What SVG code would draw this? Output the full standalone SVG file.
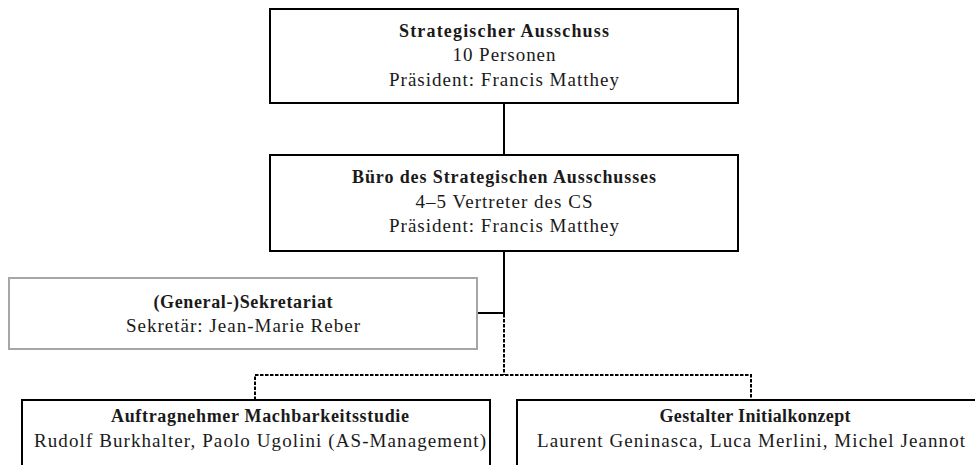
<svg xmlns="http://www.w3.org/2000/svg" width="975" height="465" viewBox="0 0 975 465">
<style>
.box{fill:#fff;stroke:#000;stroke-width:2}
.gbox{fill:#fff;stroke:#a6a6a6;stroke-width:2}
text{font-family:"Liberation Serif","Times New Roman",serif;font-size:19px;fill:#1a1a1a;text-anchor:middle}
.b{font-weight:bold;font-size:18px}
.ln{stroke:#000;stroke-width:2;fill:none}
.dot{stroke:#000;stroke-width:2;fill:none;stroke-dasharray:3.5 1.5}
</style>
<rect width="975" height="465" fill="#fff"/>
<g id="connectors">
<line class="ln" x1="504" y1="103" x2="504" y2="155"/>
<line class="ln" x1="504" y1="251" x2="504" y2="313"/>
<line class="ln" x1="477" y1="313" x2="505" y2="313"/>
<line class="dot" x1="504" y1="314" x2="504" y2="375"/>
<polyline class="dot" points="255,400 255,375 751,375 751,400"/>
</g>
<g id="strategischer-ausschuss">
<rect class="box" x="270" y="9" width="468" height="94"/>
<text class="b" x="504" y="36.5" textLength="210" lengthAdjust="spacing">Strategischer Ausschuss</text>
<text x="504" y="61" textLength="103" lengthAdjust="spacing">10 Personen</text>
<text x="504" y="85.5" textLength="230" lengthAdjust="spacing">Präsident: Francis Matthey</text>
</g>
<g id="buero">
<rect class="box" x="270" y="155" width="468" height="96"/>
<text class="b" x="504" y="183" textLength="304" lengthAdjust="spacing">Büro des Strategischen Ausschusses</text>
<text x="504" y="208" textLength="177" lengthAdjust="spacing">4–5 Vertreter des CS</text>
<text x="504" y="232" textLength="230" lengthAdjust="spacing">Präsident: Francis Matthey</text>
</g>
<g id="sekretariat">
<rect class="gbox" x="9" y="278" width="468" height="71"/>
<text class="b" x="243" y="308" textLength="179" lengthAdjust="spacing">(General-)Sekretariat</text>
<text x="243" y="332" textLength="234" lengthAdjust="spacing">Sekretär: Jean-Marie Reber</text>
</g>
<g id="machbarkeitsstudie">
<rect class="box" x="22" y="400" width="468" height="80"/>
<text class="b" x="260" y="422" textLength="298" lengthAdjust="spacing">Auftragnehmer Machbarkeitsstudie</text>
<text x="260" y="447" textLength="452" lengthAdjust="spacing">Rudolf Burkhalter, Paolo Ugolini (AS-Management)</text>
</g>
<g id="initialkonzept">
<rect class="box" x="517" y="400" width="470" height="80"/>
<text class="b" x="755" y="422" textLength="191" lengthAdjust="spacing">Gestalter Initialkonzept</text>
<text x="751" y="447" textLength="428" lengthAdjust="spacing">Laurent Geninasca, Luca Merlini, Michel Jeannot</text>
</g>
</svg>
